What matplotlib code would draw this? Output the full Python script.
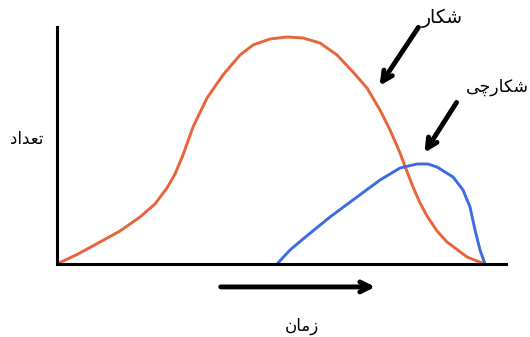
import matplotlib
matplotlib.use('Agg')
import matplotlib.pyplot as plt

# pixel-read points, converted to data units below (x: time 0..100, y: count 0..100)
prey_px_x = [57, 78, 100, 120, 140, 155, 167, 175, 183, 193, 207, 223, 240, 253, 270, 287,
             303, 320, 337, 353, 367, 380, 390, 400, 406, 413, 420, 427, 437, 447, 467, 482, 485]
prey_px_y = [264, 254, 242, 231, 217, 204, 188, 174, 155, 127, 98, 75, 55, 45, 39, 37,
             38, 43, 55, 72, 88, 110, 130, 153, 169, 187, 203, 216, 231, 242, 257, 263, 264]
pred_px_x = [277, 290, 303, 330, 357, 380, 400, 417, 428, 437, 453, 463, 470, 475, 480, 485]
pred_px_y = [264, 250, 239, 217, 197, 180, 168, 164, 164, 167, 177, 190, 207, 230, 250, 264]

prey_x = [(p - 57) / 428 * 100 for p in prey_px_x]
prey_y = [(264 - p) / 227 * 100 for p in prey_px_y]
pred_x = [(p - 57) / 428 * 100 for p in pred_px_x]
pred_y = [(264 - p) / 227 * 100 for p in pred_px_y]

# Persian labels, pre-shaped (presentation forms, visual order)
lbl_prey = '\uFEAD\uFE8E\uFB91\uFEB7'                  # شکار
lbl_pred = '\uFBFD\uFB7C\uFEAD\uFE8E\uFB91\uFEB7'      # شکارچی
lbl_count = '\uFEA9\uFE8D\uFEAA\uFECC\uFE97'           # تعداد
lbl_time = '\uFEE5\uFE8E\uFEE3\uFEAF'                  # زمان

fig = plt.figure(figsize=(5.30, 3.37), dpi=100)
ax = fig.add_axes([57 / 530, 73 / 337, 449 / 530, 237 / 337])
ax.set_xlim(0, 104.9)
ax.set_ylim(0, 104.4)

ax.plot(prey_x, prey_y, color='#E8643A', lw=2.1, solid_capstyle='round', solid_joinstyle='round')
ax.plot(pred_x, pred_y, color='#3D6BE0', lw=2.1, solid_capstyle='round', solid_joinstyle='round')

for s in ['top', 'right']:
    ax.spines[s].set_visible(False)
for s in ['left', 'bottom']:
    ax.spines[s].set_linewidth(2.2)
    ax.spines[s].set_color('black')
ax.set_xticks([])
ax.set_yticks([])

fnt = ['DejaVu Sans']
arr = dict(arrowstyle='->', lw=3.5, color='black', mutation_scale=18)

ax.annotate('', xy=(75.0, 77.5), xytext=(84.8, 105.3), arrowprops=arr, annotation_clip=False)
ax.annotate('', xy=(85.5, 48.0), xytext=(93.7, 72.2), arrowprops=arr, annotation_clip=False)
ax.annotate('', xy=(75.0, -10.1), xytext=(37.6, -10.1), arrowprops=arr, annotation_clip=False)

ax.text(90.0, 108.4, lbl_prey, family=fnt, fontsize=13.5, ha='center', va='center', clip_on=False)
ax.text(102.8, 78.0, lbl_pred, family=fnt, fontsize=12.5, ha='center', va='center', clip_on=False)
ax.text(-7.0, 55.0, lbl_count, family=fnt, fontsize=12, ha='center', va='center', clip_on=False)
ax.text(57.2, -27.3, lbl_time, family=fnt, fontsize=12, ha='center', va='center', clip_on=False)

fig.savefig('out.png', dpi=100)
